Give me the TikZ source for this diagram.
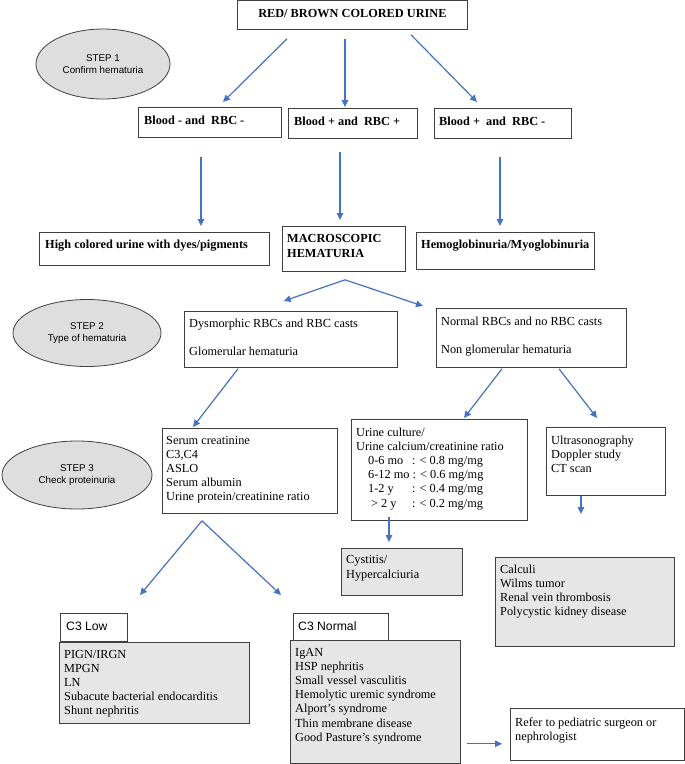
\documentclass[tikz,border=0pt]{standalone}
\usepackage{fontspec}
\setmainfont{Liberation Serif}
\newfontfamily\arialf{Liberation Sans}
\usetikzlibrary{arrows.meta,shapes.geometric}
\definecolor{arrblue}{HTML}{4472C4}
\definecolor{boxline}{HTML}{404040}
\definecolor{ellfill}{HTML}{DEDEDE}
\definecolor{boxfill}{HTML}{E6E6E6}
\newcommand{\mylines}[1]{\begin{tabular}[t]{@{}l@{}}#1\end{tabular}}
\begin{document}
\begin{tikzpicture}[x=1pt,y=-1pt,
  box/.style={draw=boxline, line width=0.8pt, inner sep=0pt, anchor=north west},
  gbox/.style={box, fill=boxfill},
  stepell/.style={ellipse, draw=boxline, fill=ellfill, line width=0.8pt, inner sep=0pt,
    font=\arialf\fontsize{9.8}{12}\selectfont, align=center},
  txt/.style={anchor=base west, inner sep=0pt, font=\fontsize{12.3}{14.2}\selectfont},
  btxt/.style={txt, font=\bfseries\fontsize{12.3}{15}\selectfont},
  stxt/.style={txt, font=\arialf\fontsize{12.2}{14}\selectfont},
  arr/.style={draw=arrblue, line width=1.2pt, -{Triangle[length=7pt,width=6.5pt]}}
]
\fill[white] (0,0) rectangle (685,764);
\useasboundingbox (0,0) rectangle (685,764);

% step ellipses
\node[stepell, minimum width=134pt, minimum height=70pt] (s1) at (103,64) {STEP 1\\Confirm hematuria};
\node[stepell, minimum width=148pt, minimum height=67pt] (s2) at (87,333) {STEP 2\\Type of hematuria};
\node[stepell, minimum width=150pt, minimum height=68pt] (s3) at (77,475) {STEP 3\\Check proteinuria};

% boxes
\node[box, minimum width=230pt, minimum height=29pt] (title) at (237,0) {};
\node[box, minimum width=143pt, minimum height=30pt] (b1) at (138,107) {};
\node[box, minimum width=129pt, minimum height=30pt] (b2) at (288,108) {};
\node[box, minimum width=137pt, minimum height=30pt] (b3) at (434,108) {};
\node[box, minimum width=230pt, minimum height=33pt] (c1) at (39,232) {};
\node[box, minimum width=123pt, minimum height=45pt] (c2) at (282,226) {};
\node[box, minimum width=178pt, minimum height=37pt] (c3) at (416,232) {};
\node[box, minimum width=213pt, minimum height=56pt] (d1) at (184,311) {};
\node[box, minimum width=190pt, minimum height=59pt] (d2) at (436,308) {};
\node[box, minimum width=175pt, minimum height=85pt] (e1) at (162,428) {};
\node[box, minimum width=176pt, minimum height=101pt] (e2) at (351,419) {};
\node[box, minimum width=119pt, minimum height=68pt] (e3) at (546,427) {};
\node[gbox, minimum width=121pt, minimum height=47pt] (f1) at (341,548) {};
\node[gbox, minimum width=179pt, minimum height=89pt] (f2) at (495,557) {};
\node[box, minimum width=67pt, minimum height=28pt] (g1) at (60,613) {};
\node[gbox, minimum width=190pt, minimum height=81pt] (g2) at (59,642) {};
\node[box, minimum width=95pt, minimum height=27pt] (g3) at (293,613) {};
\node[gbox, minimum width=170pt, minimum height=123pt] (g4) at (290,640) {};
\node[box, minimum width=174pt, minimum height=52pt] (h) at (510,708) {};

% texts
\node[btxt, anchor=base] (titleT) at ([yshift=-17pt]title.north) {RED/ BROWN COLORED URINE};
\node[btxt] (b1T) at ([xshift=6pt,yshift=-17pt]b1.north west) {Blood - and\ \ RBC -};
\node[btxt] (b2T) at ([xshift=6pt,yshift=-17pt]b2.north west) {Blood + and\ \ RBC +};
\node[btxt] (b3T) at ([xshift=5pt,yshift=-17pt]b3.north west) {Blood +\ \ and\ \ RBC -};
\node[btxt] (c1T) at ([xshift=6pt,yshift=-16pt]c1.north west) {High colored urine with dyes/pigments};
\node[btxt] (c2T) at ([xshift=5pt,yshift=-16pt]c2.north west) {\mylines{MACROSCOPIC\\HEMATURIA}};
\node[btxt] (c3T) at ([xshift=5pt,yshift=-16pt]c3.north west) {Hemoglobinuria/Myoglobinuria};
\node[txt] (d1T) at ([xshift=5pt,yshift=-16pt]d1.north west) {\mylines{Dysmorphic RBCs and RBC casts\\[14.2pt]Glomerular hematuria}};
\node[txt] (d2T) at ([xshift=5pt,yshift=-17pt]d2.north west) {\mylines{Normal RBCs and no RBC casts\\[14.2pt]Non glomerular hematuria}};
\node[txt] (e1T) at ([xshift=4pt,yshift=-16pt]e1.north west) {\mylines{Serum creatinine\\C3,C4\\ASLO\\Serum albumin\\Urine protein/creatinine ratio}};
\node[txt] (e2T) at ([xshift=5pt,yshift=-17pt]e2.north west) {\mylines{Urine culture/\\Urine calcium/creatinine ratio\\
\hspace*{12pt}\makebox[44pt][l]{0-6 mo}: < 0.8 mg/mg\\
\hspace*{12pt}6-12 mo : < 0.6 mg/mg\\
\hspace*{12pt}\makebox[44pt][l]{1-2 y}: < 0.4 mg/mg\\
\hspace*{15pt}\makebox[41pt][l]{> 2 y}: < 0.2 mg/mg}};
\node[txt] (e3T) at ([xshift=5pt,yshift=-17pt]e3.north west) {\mylines{Ultrasonography\\Doppler study\\CT scan}};
\node[txt, font=\fontsize{12.3}{15.7}\selectfont] (f1T) at ([xshift=5pt,yshift=-15pt]f1.north west) {\mylines{Cystitis/\\Hypercalciuria}};
\node[txt] (f2T) at ([xshift=5pt,yshift=-16pt]f2.north west) {\mylines{Calculi\\Wilms tumor\\Renal vein thrombosis\\Polycystic kidney disease}};
\node[stxt] (g1T) at ([xshift=6pt,yshift=-17pt]g1.north west) {C3 Low};
\node[txt] (g2T) at ([xshift=5pt,yshift=-16pt]g2.north west) {\mylines{PIGN/IRGN\\MPGN\\LN\\Subacute bacterial endocarditis\\Shunt nephritis}};
\node[stxt] (g3T) at ([xshift=5pt,yshift=-17pt]g3.north west) {C3 Normal};
\node[txt] (g4T) at ([xshift=5pt,yshift=-16pt]g4.north west) {\mylines{IgAN\\HSP nephritis\\Small vessel vasculitis\\Hemolytic uremic syndrome\\Alport’s syndrome\\Thin membrane disease\\Good Pasture’s syndrome}};
\node[txt] (hT) at ([xshift=5pt,yshift=-18pt]h.north west) {\mylines{Refer to pediatric surgeon or\\nephrologist}};

% connectors
\draw[arr] ([xshift=50pt,yshift=-9pt]title.south west) -- ([xshift=85pt,yshift=5pt]b1.north west);
\draw[arr] ([xshift=108pt,yshift=-9pt]title.south west) -- ([xshift=57pt,yshift=1pt]b2.north west);
\draw[arr] ([xshift=174pt,yshift=-5pt]title.south west) -- ([xshift=43pt,yshift=6pt]b3.north west);

\draw[arr] ([xshift=63pt,yshift=-19pt]b1.south west) -- ([xshift=162pt,yshift=6pt]c1.north west);
\draw[arr] ([xshift=52pt,yshift=-13pt]b2.south west) -- ([xshift=58pt,yshift=6pt]c2.north west);
\draw[arr] ([xshift=66pt,yshift=-18pt]b3.south west) -- ([xshift=84pt,yshift=6pt]c3.north west);

\coordinate (mapex) at ([xshift=63pt,yshift=-8pt]c2.south west);
\draw[arr] (mapex) -- ([xshift=-114pt,yshift=10pt]d1.north east);
\draw[arr] (mapex) -- ([xshift=-13pt,yshift=2pt]d2.north west);

\draw[arr] ([xshift=54pt,yshift=-1pt]d1.south west) -- ([xshift=31pt,yshift=1pt]e1.north west);
\draw[arr] ([xshift=66pt,yshift=-1pt]d2.south west) -- ([xshift=113pt,yshift=1pt]e2.north west);
\draw[arr] ([xshift=123pt,yshift=-1pt]d2.south west) -- ([xshift=51pt,yshift=9pt]e3.north west);

\draw[arr] ([xshift=38pt,yshift=4pt]e2.south west) -- ([xshift=48pt,yshift=6pt]f1.north west);
\draw[arr] ([xshift=35pt]e3.south west) -- ([xshift=86pt,yshift=43pt]f2.north west);

\coordinate (sapex) at ([xshift=40pt,yshift=-7pt]e1.south west);
\draw[arr] (sapex) -- ([xshift=80pt,yshift=18pt]g1.north west);
\draw[arr] (sapex) -- ([xshift=-12pt,yshift=18pt]g3.north west);

\draw[arr] ([xshift=6pt,yshift=20pt]g4.south east) -- ([xshift=-8pt,yshift=17pt]h.south west);
\end{tikzpicture}
\end{document}
